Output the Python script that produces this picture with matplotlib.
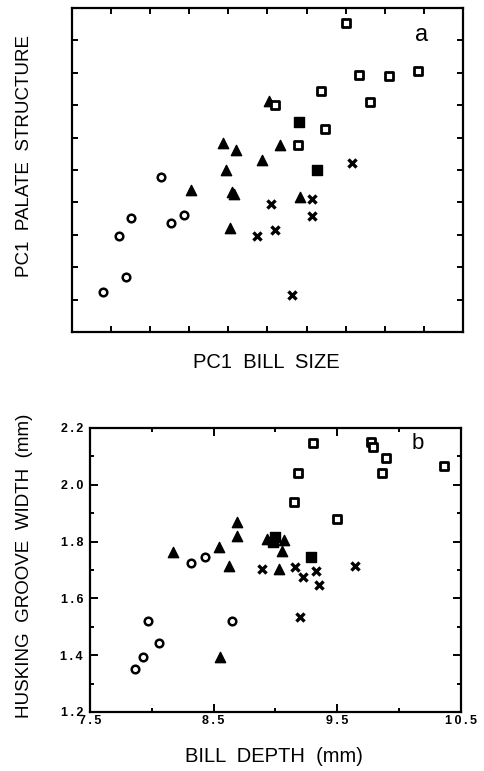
import matplotlib
matplotlib.use("Agg")
import matplotlib.pyplot as plt
from matplotlib.ticker import MultipleLocator, NullFormatter

plt.rcParams['font.family'] = ['Liberation Sans', 'DejaVu Sans']

# ---- Panel a: PC1 bill size vs PC1 palate structure (unscaled units) ----
a_circle_x = [0.79, 1.38, 1.19, 1.51, 2.28, 2.52, 2.86]
a_circle_y = [1.24, 1.70, 2.95, 3.51, 4.77, 3.36, 3.61]

a_tri_x = [3.05, 3.86, 4.20, 3.94, 4.09, 4.14, 4.03, 4.86, 5.31, 5.03, 5.84]
a_tri_y = [4.37, 5.83, 5.63, 5.01, 4.31, 4.27, 3.21, 5.32, 5.77, 7.13, 4.16]

a_open_sq_x = [7.01, 5.18, 6.37, 7.33, 8.10, 8.85, 7.61, 6.48, 5.78]
a_open_sq_y = [9.54, 7.02, 7.43, 7.94, 7.89, 8.05, 7.09, 6.28, 5.78]

a_fill_sq_x = [5.80, 6.26]
a_fill_sq_y = [6.47, 5.01]

a_cross_x = [7.17, 6.14, 6.14, 5.09, 5.18, 4.74, 5.63]
a_cross_y = [5.22, 4.12, 3.59, 3.96, 3.16, 2.95, 1.15]

# ---- Panel b: bill depth vs husking groove width (mm) ----
b_circle_x = [7.865, 7.932, 7.968, 8.057, 8.314, 8.432, 8.646]
b_circle_y = [1.351, 1.395, 1.521, 1.442, 1.724, 1.745, 1.521]

b_tri_x = [8.17, 8.543, 8.62, 8.69, 8.69, 8.554, 8.93, 9.07, 9.054, 9.027]
b_tri_y = [1.765, 1.780, 1.715, 1.868, 1.821, 1.395, 1.809, 1.804, 1.768, 1.704]

b_open_sq_x = [9.305, 9.184, 9.149, 9.495, 9.773, 9.79, 9.895, 9.865, 10.36]
b_open_sq_y = [2.147, 2.042, 1.941, 1.878, 2.151, 2.133, 2.094, 2.042, 2.065]

b_fill_sq_x = [8.996, 8.98, 9.29]
b_fill_sq_y = [1.817, 1.800, 1.745]

b_cross_x = [8.892, 9.157, 9.224, 9.327, 9.354, 9.197, 9.643]
b_cross_y = [1.704, 1.709, 1.674, 1.698, 1.647, 1.535, 1.713]

b_xticks = [7.5, 8.5, 9.5, 10.5]
b_xticklabels = ['7.5', '8.5', '9.5', '10.5']
b_yticks = [1.2, 1.4, 1.6, 1.8, 2.0, 2.2]
b_yticklabels = ['1.2', '1.4', '1.6', '1.8', '2.0', '2.2']

fig = plt.figure(figsize=(4.85, 7.71), dpi=100)


def spaced(s):
    # widen the letter spacing of numeric tick labels
    return '\u2009'.join(s)


def draw_groups(ax, circ, tri, osq, fsq, crs):
    ax.scatter(*circ, marker='o', s=30, facecolors='white',
               edgecolors='black', linewidths=1.8, zorder=3)
    ax.scatter(*tri, marker='^', s=55, color='black', zorder=3)
    ax.scatter(*osq, marker='s', s=40, facecolors='white',
               edgecolors='black', linewidths=2.0, zorder=3)
    ax.scatter(*fsq, marker='s', s=50, color='black', zorder=3)
    ax.scatter(*crs, marker='x', s=34, color='black', linewidths=2.4, zorder=3)


def style_frame(ax):
    for sp in ax.spines.values():
        sp.set_linewidth(1.6)
    ax.tick_params(which='both', direction='in', top=True, right=True,
                   width=1.4, color='black')


# Panel a
ax1 = fig.add_axes([72/485, 1-332/771, 391/485, 324/771])
draw_groups(ax1, (a_circle_x, a_circle_y), (a_tri_x, a_tri_y),
            (a_open_sq_x, a_open_sq_y), (a_fill_sq_x, a_fill_sq_y),
            (a_cross_x, a_cross_y))
ax1.set_xlim(0, 10)
ax1.set_ylim(0, 10)
ax1.xaxis.set_major_locator(MultipleLocator(1))
ax1.yaxis.set_major_locator(MultipleLocator(1))
ax1.xaxis.set_major_formatter(NullFormatter())
ax1.yaxis.set_major_formatter(NullFormatter())
style_frame(ax1)
ax1.tick_params(which='major', length=4)
ax1.text(0.893, 0.917, 'a', transform=ax1.transAxes, fontsize=17,
         ha='center', va='center')
fig.text(266/485, 1-363/771, 'PC1  BILL  SIZE', fontsize=14.5,
         ha='center', va='center')
fig.text(25/485, 1-156/771, 'PC1  PALATE  STRUCTURE', fontsize=13.5,
         ha='center', va='center', rotation=90)

# Panel b
ax2 = fig.add_axes([90/485, 1-712/771, 371/485, 284/771])
draw_groups(ax2, (b_circle_x, b_circle_y), (b_tri_x, b_tri_y),
            (b_open_sq_x, b_open_sq_y), (b_fill_sq_x, b_fill_sq_y),
            (b_cross_x, b_cross_y))
ax2.set_xlim(7.5, 10.5)
ax2.set_ylim(1.2, 2.2)
ax2.set_xticks(b_xticks)
ax2.set_xticklabels([spaced(t) for t in b_xticklabels])
ax2.set_yticks(b_yticks)
ax2.set_yticklabels([spaced(t) for t in b_yticklabels])
ax2.xaxis.set_minor_locator(MultipleLocator(0.5))
ax2.yaxis.set_minor_locator(MultipleLocator(0.1))
style_frame(ax2)
ax2.tick_params(which='major', length=6, labelsize=9)
ax2.tick_params(axis='x', which='major', pad=2)
ax2.tick_params(axis='y', which='major', pad=5)
ax2.tick_params(which='minor', length=3)
for lab in ax2.get_xticklabels() + ax2.get_yticklabels():
    lab.set_fontweight('bold')
ax2.text(0.884, 0.947, 'b', transform=ax2.transAxes, fontsize=16,
         ha='center', va='center')
fig.text(274/485, 1-757/771, 'BILL  DEPTH  (mm)', fontsize=14.5,
         ha='center', va='center')
fig.text(25/485, 1-566/771, 'HUSKING  GROOVE  WIDTH  (mm)', fontsize=13.5,
         ha='center', va='center', rotation=90)

fig.savefig('out.png', dpi=100)
